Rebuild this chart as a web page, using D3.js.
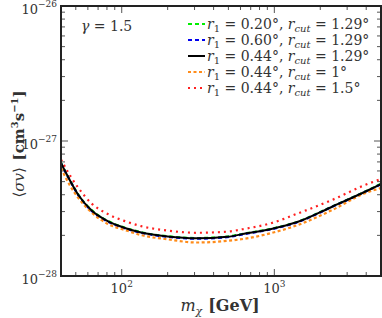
<!DOCTYPE html>
<html>
<head>
<meta charset="utf-8">
<script src="https://cdn.jsdelivr.net/npm/d3@7"></script>
<style>
  body { margin: 0; background: #fff; }
  text { font-family: "DejaVu Serif", serif; fill: #333; }
</style>
</head>
<body>
<div id="chart"></div>
<script>
// masses in GeV
var masses = [40, 46, 52, 63, 81, 105, 134, 200, 310, 490, 660, 940, 1430, 2390, 3930, 5000];
// <sigma v> in units of 1e-28 cm^3/s
var sv_r020 = [6.90, 5.08, 4.00, 3.10, 2.56, 2.28, 2.11, 1.97, 1.91, 1.96, 2.08, 2.23, 2.53, 3.27, 4.22, 4.82];
var sv_r060 = [6.84, 5.04, 3.96, 3.06, 2.53, 2.25, 2.09, 1.95, 1.89, 1.94, 2.06, 2.21, 2.51, 3.25, 4.20, 4.78];
var sv_r044 = [6.87, 5.06, 3.98, 3.08, 2.55, 2.27, 2.10, 1.96, 1.90, 1.95, 2.07, 2.22, 2.52, 3.26, 4.21, 4.80];
var sv_cut1 = [6.31, 4.64, 3.78, 2.98, 2.43, 2.19, 2.01, 1.87, 1.77, 1.82, 1.90, 2.07, 2.39, 3.08, 4.10, 4.49];
var sv_cut15 = [7.30, 5.51, 4.49, 3.47, 2.88, 2.55, 2.34, 2.17, 2.09, 2.13, 2.25, 2.45, 2.91, 3.66, 4.72, 5.23];

var seriesNames = ["0.20", "0.60", "0.44", "0.44", "0.44"];
var cutNames = ["1.29", "1.29", "1.29", "1", "1.5"];
var seriesData = [sv_r020, sv_r060, sv_r044, sv_cut1, sv_cut15];
var colors = ["#00ee00", "#0000ee", "#000000", "#ff8c1a", "#ff2020"];
var dashes = ["4,3", "4,3", null, "3,2.5", "2,4"];

var xTicks = [100, 1000];
var yTicks = [1e-28, 1e-27, 1e-26];

var W = 382, H = 318;
var margin = {top: 6, right: 1, bottom: 42, left: 61};
var width = W - margin.left - margin.right;
var height = H - margin.top - margin.bottom;

var svg = d3.select("#chart").append("svg")
    .attr("width", W).attr("height", H);

var x = d3.scaleLog().domain([40, 5000]).range([margin.left, margin.left + width]);
var y = d3.scaleLog().domain([1e-28, 1e-26]).range([margin.top + height, margin.top]);

svg.append("clipPath").attr("id", "clip")
  .append("rect").attr("x", margin.left).attr("y", margin.top)
  .attr("width", width).attr("height", height);

// minor ticks
var xMinor = [];
[10, 100, 1000].forEach(function(d) {
    for (var k = 2; k <= 9; k++) {
        var v = d * k;
        if (v > 40 && v < 5000) xMinor.push(v);
    }
});
var yMinor = [];
[1e-28, 1e-27].forEach(function(d) {
    for (var k = 2; k <= 9; k++) yMinor.push(d * k);
});

var tickLayer = svg.append("g").attr("stroke", "#555").attr("stroke-width", 1);
function tickX(v, len) {
    tickLayer.append("line").attr("x1", x(v)).attr("x2", x(v))
        .attr("y1", margin.top + height).attr("y2", margin.top + height - len);
    tickLayer.append("line").attr("x1", x(v)).attr("x2", x(v))
        .attr("y1", margin.top).attr("y2", margin.top + len);
}
function tickY(v, len) {
    tickLayer.append("line").attr("y1", y(v)).attr("y2", y(v))
        .attr("x1", margin.left).attr("x2", margin.left + len);
    tickLayer.append("line").attr("y1", y(v)).attr("y2", y(v))
        .attr("x1", margin.left + width).attr("x2", margin.left + width - len);
}
xMinor.forEach(function(v) { tickX(v, 4); });
xTicks.forEach(function(v) { tickX(v, 7); });
yMinor.forEach(function(v) { tickY(v, 4); });
yTicks.forEach(function(v) { tickY(v, 7); });

// curves
var line = d3.line()
    .x(function(d) { return x(d[0]); })
    .y(function(d) { return y(d[1] * 1e-28); })
    .curve(d3.curveMonotoneX);

var plotLayer = svg.append("g").attr("clip-path", "url(#clip)");
var order = [0, 1, 3, 4, 2];
order.forEach(function(i) {
    var pts = masses.map(function(m, j) { return [m, seriesData[i][j]]; });
    plotLayer.append("path")
        .attr("d", line(pts))
        .attr("fill", "none")
        .attr("stroke", colors[i])
        .attr("stroke-width", i === 2 ? 2 : 2.2)
        .attr("stroke-dasharray", dashes[i]);
});

// frame
svg.append("rect")
    .attr("x", margin.left).attr("y", margin.top)
    .attr("width", width).attr("height", height)
    .attr("fill", "none").attr("stroke", "#222").attr("stroke-width", 2);

// y tick labels
yTicks.forEach(function(v) {
    var t = svg.append("text")
        .attr("x", margin.left - 4).attr("y", y(v) + 8)
        .attr("text-anchor", "end").attr("font-size", 13);
    t.append("tspan").text("10");
    t.append("tspan").attr("font-size", 9).attr("dy", -7)
        .text("\u2212" + Math.round(-Math.log10(v)));
});

// x tick labels
xTicks.forEach(function(v) {
    var t = svg.append("text")
        .attr("x", x(v)).attr("y", margin.top + height + 17)
        .attr("text-anchor", "middle").attr("font-size", 13);
    t.append("tspan").text("10");
    t.append("tspan").attr("font-size", 9).attr("dy", -6)
        .text(Math.round(Math.log10(v)));
});

// axis labels
var xl = svg.append("text")
    .attr("x", 220).attr("y", 311)
    .attr("text-anchor", "middle").attr("font-size", 16);
xl.append("tspan").attr("font-style", "italic").text("m");
xl.append("tspan").attr("font-style", "italic").attr("font-size", 11).attr("dy", 4).text("\u03c7");
xl.append("tspan").attr("dy", -4).attr("dx", 6).attr("font-weight", "bold").text("[GeV]");

var yl = svg.append("text")
    .attr("transform", "translate(24,144) rotate(-90)")
    .attr("text-anchor", "middle").attr("font-size", 15);
yl.append("tspan").text("\u27e8");
yl.append("tspan").attr("font-style", "italic").text("\u03c3v");
yl.append("tspan").text("\u27e9 ");
yl.append("tspan").attr("font-weight", "bold").attr("dx", 2).text("[cm");
yl.append("tspan").attr("font-weight", "bold").attr("font-size", 10).attr("dy", -6).text("3");
yl.append("tspan").attr("font-weight", "bold").attr("dy", 6).text("s");
yl.append("tspan").attr("font-weight", "bold").attr("font-size", 10).attr("dy", -6).text("\u22121");
yl.append("tspan").attr("font-weight", "bold").attr("dy", 6).text("]");

// gamma annotation
var g = svg.append("text").attr("x", 81).attr("y", 31).attr("font-size", 14);
g.append("tspan").attr("font-style", "italic").text("\u03b3");
g.append("tspan").text(" = 1.5");

// legend
var legY0 = 24, legStep = 16;
seriesData.forEach(function(s, i) {
    var yy = legY0 + i * legStep;
    svg.append("line")
        .attr("x1", 188).attr("x2", 205).attr("y1", yy).attr("y2", yy)
        .attr("stroke", colors[i]).attr("stroke-width", 2)
        .attr("stroke-dasharray", dashes[i]);
    var t = svg.append("text").attr("x", 207).attr("y", yy + 5).attr("font-size", 14);
    t.append("tspan").attr("font-style", "italic").text("r");
    t.append("tspan").attr("font-size", 10).attr("dy", 3).text("1");
    t.append("tspan").attr("dy", -3).text(" = " + seriesNames[i] + "\u00b0, ");
    t.append("tspan").attr("font-style", "italic").text("r");
    t.append("tspan").attr("font-style", "italic").attr("font-size", 10).attr("dy", 3).text("cut");
    t.append("tspan").attr("dy", -3).text(" = " + cutNames[i] + "\u00b0");
});
</script>
</body>
</html>
